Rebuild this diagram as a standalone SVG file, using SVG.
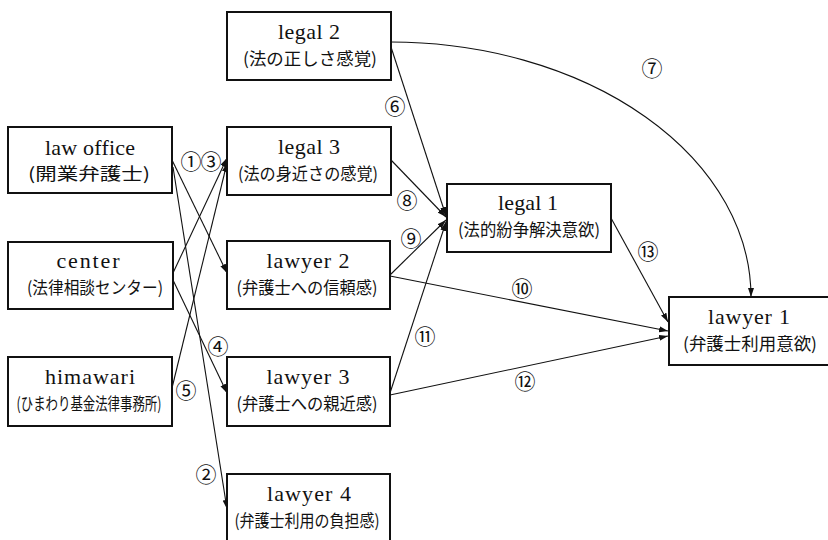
<svg xmlns="http://www.w3.org/2000/svg" width="828" height="540" viewBox="0 0 828 540">
<style>
.box{fill:#fff;stroke:#111;stroke-width:2}
.en{font-family:"Liberation Serif","Noto Sans CJK JP",serif;font-size:22px;fill:#111;text-anchor:middle}
.jp{font-family:"Noto Sans CJK JP",sans-serif;font-size:17px;fill:#111;text-anchor:middle}
.num{font-family:"Noto Sans CJK JP",sans-serif;font-size:21px;fill:#111;text-anchor:middle;dominant-baseline:central}
.ln{fill:none;stroke:#111;stroke-width:1.1}
</style>
<defs>
<marker id="ah" markerUnits="userSpaceOnUse" markerWidth="10" markerHeight="7" refX="9" refY="3" orient="auto">
<path d="M0,0 L9,3 L0,6 z" fill="#111"/>
</marker>
</defs>
<rect width="828" height="540" fill="#fff"/>
<g id="connectors">
<line class="ln" x1="172" y1="160" x2="227" y2="273" marker-end="url(#ah)"/>
<line class="ln" x1="173" y1="167" x2="227" y2="509" marker-end="url(#ah)"/>
<line class="ln" x1="173" y1="273" x2="227" y2="158" marker-end="url(#ah)"/>
<line class="ln" x1="173" y1="280" x2="227" y2="393" marker-end="url(#ah)"/>
<line class="ln" x1="172" y1="388" x2="227" y2="163" marker-end="url(#ah)"/>
<line class="ln" x1="391" y1="47" x2="446" y2="216" marker-end="url(#ah)"/>
<path class="ln" d="M391,42 A361,255 0 0 1 751,297" marker-end="url(#ah)"/>
<line class="ln" x1="391" y1="160" x2="446" y2="217" marker-end="url(#ah)"/>
<line class="ln" x1="390" y1="275" x2="446" y2="220" marker-end="url(#ah)"/>
<line class="ln" x1="390" y1="276" x2="668" y2="331" marker-end="url(#ah)"/>
<line class="ln" x1="390" y1="393" x2="446" y2="222" marker-end="url(#ah)"/>
<line class="ln" x1="390" y1="395" x2="668" y2="336" marker-end="url(#ah)"/>
<line class="ln" x1="611" y1="218" x2="668" y2="322" marker-end="url(#ah)"/>
<text class="num" x="191" y="160">①</text>
<text class="num" x="211" y="160">③</text>
<text class="num" x="218" y="345">④</text>
<text class="num" x="186" y="389">⑤</text>
<text class="num" x="206" y="473">②</text>
<text class="num" x="395" y="105">⑥</text>
<text class="num" x="652" y="67">⑦</text>
<text class="num" x="407" y="199">⑧</text>
<text class="num" x="411" y="237">⑨</text>
<text class="num" x="522" y="287">⑩</text>
<text class="num" x="425" y="335">⑪</text>
<text class="num" x="525" y="380">⑫</text>
<text class="num" x="648" y="250">⑬</text>
</g>
<g id="legal2">
<rect class="box" x="227" y="12" width="164" height="68"/>
<text class="en" x="309" y="39" textLength="62" lengthAdjust="spacing">legal 2</text>
<text class="jp" x="310" y="65" textLength="134" lengthAdjust="spacingAndGlyphs">(法の正しさ感覚)</text>
</g>
<g id="legal3">
<rect class="box" x="227" y="127" width="164" height="68"/>
<text class="en" x="309" y="154" textLength="62" lengthAdjust="spacing">legal 3</text>
<text class="jp" x="308" y="180" textLength="140" lengthAdjust="spacingAndGlyphs">(法の身近さの感覚)</text>
</g>
<g id="lawoffice">
<rect class="box" x="8" y="127" width="164" height="66"/>
<text class="en" x="90" y="155" textLength="90" lengthAdjust="spacing">law office</text>
<text class="jp" x="89" y="180" textLength="122" lengthAdjust="spacingAndGlyphs">(開業弁護士)</text>
</g>
<g id="center">
<rect class="box" x="8" y="242" width="165" height="67"/>
<text class="en" x="88" y="268" textLength="63" lengthAdjust="spacing">center</text>
<text class="jp" x="95" y="294" textLength="136" lengthAdjust="spacingAndGlyphs">(法律相談センター)</text>
</g>
<g id="lawyer2">
<rect class="box" x="227" y="241" width="163" height="68"/>
<text class="en" x="308" y="268" textLength="83" lengthAdjust="spacing">lawyer 2</text>
<text class="jp" x="307" y="294" textLength="141" lengthAdjust="spacingAndGlyphs">(弁護士への信頼感)</text>
</g>
<g id="himawari">
<rect class="box" x="8" y="357" width="164" height="69"/>
<text class="en" x="90" y="384" textLength="90" lengthAdjust="spacing">himawari</text>
<text class="jp" transform="translate(89,410) scale(0.73,1)" x="0" y="0">(ひまわり基金法律事務所)</text>
</g>
<g id="lawyer3">
<rect class="box" x="227" y="357" width="163" height="69"/>
<text class="en" x="308" y="384" textLength="83" lengthAdjust="spacing">lawyer 3</text>
<text class="jp" x="307" y="410" textLength="141" lengthAdjust="spacingAndGlyphs">(弁護士への親近感)</text>
</g>
<g id="lawyer4">
<rect class="box" x="227" y="474" width="163" height="72"/>
<text class="en" x="309" y="501" textLength="84" lengthAdjust="spacing">lawyer 4</text>
<text class="jp" x="307" y="527" textLength="145" lengthAdjust="spacingAndGlyphs">(弁護士利用の負担感)</text>
</g>
<g id="legal1">
<rect class="box" x="447" y="184" width="164" height="68"/>
<text class="en" x="528" y="210" textLength="60" lengthAdjust="spacing">legal 1</text>
<text class="jp" x="529" y="236" textLength="142" lengthAdjust="spacingAndGlyphs">(法的紛争解決意欲)</text>
</g>
<g id="lawyer1">
<rect class="box" x="669" y="297" width="170" height="68"/>
<text class="en" x="749" y="324" textLength="82" lengthAdjust="spacing">lawyer 1</text>
<text class="jp" x="750" y="350" textLength="134" lengthAdjust="spacingAndGlyphs">(弁護士利用意欲)</text>
</g>
</svg>
